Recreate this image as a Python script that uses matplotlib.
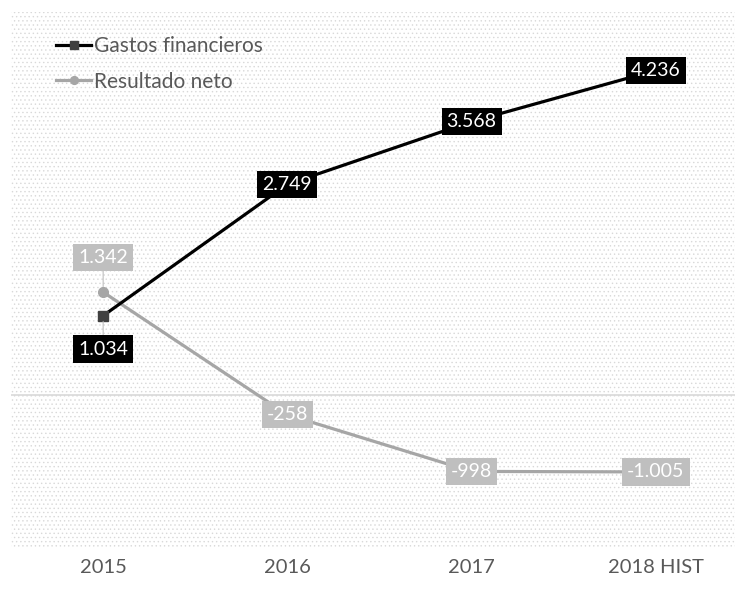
import matplotlib.pyplot as plt
from matplotlib.patches import Rectangle

years = ["2015", "2016", "2017", "2018 HIST"]
gastos = [1034, 2749, 3568, 4236]
resultado = [1342, -258, -998, -1005]

TXT = '#595959'
GREY = '#a6a6a6'
BOX_GREY = '#bfbfbf'

plt.rcParams['font.family'] = ['Lato', 'DejaVu Sans']
plt.rcParams['hatch.linewidth'] = 0.5


def fmt(v):
    # thousands separator as a dot
    return f"{v:,}".replace(",", ".")


fig = plt.figure(figsize=(7.35, 5.92), dpi=100)
ax = fig.add_axes([0.015, 0.074, 0.985, 0.906])
ax.set_xlim(-0.5, 3.43)
ax.set_ylim(-2000, 5000)

# dotted background
ax.add_patch(Rectangle((0, 0), 1, 1, transform=ax.transAxes, facecolor='white',
                       edgecolor='#d9d9d9', hatch='....', lw=0, zorder=0))
for s in ax.spines.values():
    s.set_visible(False)
ax.axhline(0, color='#d9d9d9', lw=1.2, zorder=1)

x = list(range(len(years)))
ax.plot(x, gastos, color='black', lw=2.3, marker='s', ms=7,
        mfc='#404040', mec='#404040', zorder=3, label='Gastos financieros')
ax.plot(x, resultado, color=GREY, lw=2.3, marker='o', ms=7,
        mfc=GREY, mec=GREY, zorder=2, label='Resultado neto')

ax.set_xticks(x)
ax.set_xticklabels(years, fontsize=14.5, color=TXT)
ax.tick_params(axis='x', length=0, pad=8)
ax.set_yticks([])

lab = dict(fontsize=14, color='white', ha='center', va='center', zorder=5)
box = 'square,pad=0.26'
lead = dict(arrowstyle='-', color='#b8b8b8', lw=0.7, shrinkA=0, shrinkB=4)
for i, v in enumerate(gastos):
    if i == 0:
        ax.annotate(fmt(v), (i, v), xytext=(0, -24), textcoords='offset points',
                    bbox=dict(boxstyle=box, fc='black', ec='none'),
                    arrowprops=lead, **lab)
    else:
        ax.text(i, v, fmt(v), bbox=dict(boxstyle=box, fc='black', ec='none'), **lab)
for i, v in enumerate(resultado):
    if i == 0:
        ax.annotate(fmt(v), (i, v), xytext=(0, 25), textcoords='offset points',
                    bbox=dict(boxstyle=box, fc=BOX_GREY, ec='none'),
                    arrowprops=lead, **lab)
    else:
        ax.text(i, v, fmt(v), bbox=dict(boxstyle=box, fc=BOX_GREY, ec='none'), **lab)

leg = ax.legend(loc='upper left', bbox_to_anchor=(0.036, 0.99), frameon=False,
                fontsize=15, handlelength=1.7, handletextpad=0.12, labelspacing=0.75,
                markerscale=0.8)
for t in leg.get_texts():
    t.set_color(TXT)

fig.savefig('out.png', dpi=100)
